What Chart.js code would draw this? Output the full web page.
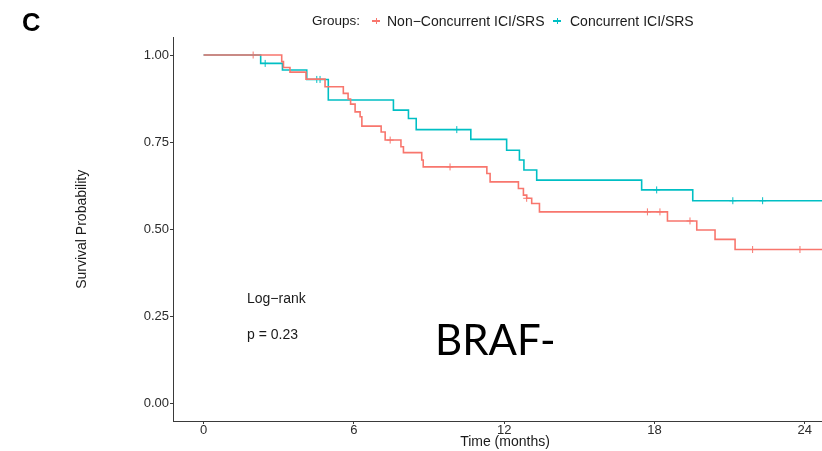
<!DOCTYPE html>
<html>
<head>
<meta charset="utf-8">
<script src="https://cdn.jsdelivr.net/npm/chart.js@4.4.1/dist/chart.umd.min.js"></script>
<style>
  html, body { margin: 0; padding: 0; background: #ffffff; }
  #wrap { position: relative; width: 822px; height: 451px; overflow: hidden;
          font-family: "Liberation Sans", Arial, Helvetica, sans-serif; }
  #wrap canvas { position: absolute; left: 0; top: 0; }
  .txt { position: absolute; white-space: nowrap; line-height: 1; color: #1a1a1a; }
  .key { position: absolute; width: 8px; height: 1.5px; }
  .key::after { content: ""; position: absolute; left: 3.5px; top: -2.5px; width: 1px; height: 6.5px; background: inherit; }
</style>
</head>
<body>
<div id="wrap">
  <canvas id="km" width="822" height="451"></canvas>
  <div class="txt" id="panel" style="left:22px;top:10px;font-size:25.5px;font-weight:bold;color:#000;"></div>
  <div class="txt" id="legTitle" style="left:312px;top:14px;font-size:13.5px;"></div>
  <span class="key" id="key0" style="left:372px;top:20px;"></span>
  <div class="txt" id="leg0" style="left:387px;top:14px;font-size:14px;"></div>
  <span class="key" id="key1" style="left:553px;top:20px;"></span>
  <div class="txt" id="leg1" style="left:570px;top:14px;font-size:14px;"></div>
  <div class="txt" id="testName" style="left:247px;top:291px;font-size:14px;"></div>
  <div class="txt" id="pval" style="left:247px;top:327px;font-size:14px;"></div>
  <div class="txt" id="subset" style="left:435px;top:318px;font-size:42px;font-family:Lato, 'Open Sans', sans-serif;color:#000;"></div>
  <div class="txt" id="xTitle" style="left:505px;top:434px;font-size:14px;transform:translateX(-50%);"></div>
</div>
<script>
// Axis ticks
const xTicks = [0, 6, 12, 18, 24];
const yTicks = [0, 0.25, 0.5, 0.75, 1];

// Group labels and colours
const groupNames = ['Non\u2212Concurrent ICI/SRS', 'Concurrent ICI/SRS'];
const groupColors = ['#F8766D', '#00BFC4'];

// Kaplan-Meier estimate, non-concurrent group (event times in months, survival after each event)
const nonConcTime = [0, 3.12, 3.19, 3.45, 4.09, 4.85, 5.58, 5.77, 5.87, 6.05, 6.25, 6.32, 7.09, 7.25,
                     7.88, 7.98, 8.71, 8.77, 11.31, 11.44, 12.57, 12.77, 12.90, 13.10, 13.41,
                     18.52, 19.69, 20.42, 21.22, 24.8];
const nonConcSurv = [1, 0.981, 0.964, 0.951, 0.931, 0.909, 0.890, 0.874, 0.859, 0.837, 0.823, 0.796, 0.779, 0.756,
                     0.737, 0.720, 0.699, 0.679, 0.660, 0.636, 0.617, 0.598, 0.589, 0.574, 0.550,
                     0.524, 0.498, 0.471, 0.442, 0.442];

// Kaplan-Meier estimate, concurrent group
const concTime = [0, 2.28, 3.15, 4.12, 4.98, 7.58, 8.18, 8.49, 10.67, 12.10, 12.61, 12.79, 13.30, 17.49, 19.53, 24.8];
const concSurv = [1, 0.976, 0.957, 0.930, 0.871, 0.842, 0.818, 0.786, 0.758, 0.727, 0.699, 0.670, 0.641, 0.613, 0.582, 0.582];

// Censored observations
const nonConcCensorTime = [1.98, 7.45, 9.84, 12.90, 17.72, 18.22, 19.42, 21.92, 23.81];
const nonConcCensorSurv = [1, 0.756, 0.679, 0.589, 0.550, 0.550, 0.524, 0.442, 0.442];
const concCensorTime = [2.46, 4.52, 4.65, 10.11, 18.09, 21.13, 22.32];
const concCensorSurv = [0.976, 0.930, 0.930, 0.786, 0.613, 0.582, 0.582];

// Text
const panelLetter = 'C';
const legendTitle = 'Groups:';
const testName = 'Log\u2212rank';
const pText = 'p = 0.23';
const subsetLabel = 'BRAF-';
const xTitle = 'Time (months)';
const yTitle = 'Survival Probability';

document.getElementById('panel').textContent = panelLetter;
document.getElementById('legTitle').textContent = legendTitle;
document.getElementById('leg0').textContent = groupNames[0];
document.getElementById('leg1').textContent = groupNames[1];
document.getElementById('key0').style.background = groupColors[0];
document.getElementById('key1').style.background = groupColors[1];
document.getElementById('testName').textContent = testName;
document.getElementById('pval').textContent = pText;
document.getElementById('subset').textContent = subsetLabel;
document.getElementById('xTitle').textContent = xTitle;

const pts = (xs, ys) => xs.map((x, i) => ({ x: x, y: ys[i] }));
const FONT = '"Liberation Sans", Arial, Helvetica, sans-serif';
const AXIS = '#3a3a3a';

const curve = (xs, ys, color) => ({
  data: pts(xs, ys), showLine: true, stepped: 'before', borderColor: color,
  borderWidth: 1.6, pointRadius: 0, fill: false
});
const censor = (xs, ys, color) => ({
  data: pts(xs, ys), showLine: false, pointStyle: 'cross', pointRadius: 3.5,
  borderColor: color, backgroundColor: color, pointBorderWidth: 1
});

// the panel runs off the right edge, so no room is reserved for end labels
const noEdgePadding = s => { s.paddingLeft = 0; s.paddingRight = 0; s.paddingTop = 0; s.paddingBottom = 0; };

new Chart(document.getElementById('km'), {
  type: 'scatter',
  data: {
    datasets: [
      curve(nonConcTime, nonConcSurv, groupColors[0]),
      curve(concTime, concSurv, groupColors[1]),
      censor(nonConcCensorTime, nonConcCensorSurv, groupColors[0]),
      censor(concCensorTime, concCensorSurv, groupColors[1])
    ]
  },
  options: {
    responsive: false,
    animation: false,
    devicePixelRatio: 1,
    layout: { autoPadding: false, padding: { left: 70, top: 37.6, right: 0, bottom: 0 } },
    plugins: { legend: { display: false }, tooltip: { enabled: false } },
    scales: {
      x: {
        type: 'linear', min: -1.22, max: 24.69,
        afterBuildTicks: s => { s.ticks = xTicks.map(v => ({ value: v })); },
        afterFit: s => { s.height = 30; noEdgePadding(s); },
        grid: { drawOnChartArea: false, drawTicks: true, tickLength: 3, color: AXIS, lineWidth: 1 },
        border: { display: true, color: AXIS, width: 1 },
        ticks: { color: '#2b2b2b', padding: 0, maxRotation: 0, autoSkip: false,
                 font: { size: 13, family: FONT, lineHeight: 1 }, callback: v => String(v) },
        title: { display: false }
      },
      y: {
        type: 'linear', min: -0.05, max: 1.05,
        afterBuildTicks: s => { s.ticks = yTicks.map(v => ({ value: v })); },
        afterFit: s => { s.width = 103; noEdgePadding(s); },
        grid: { drawOnChartArea: false, drawTicks: true, tickLength: 3, color: AXIS, lineWidth: 1 },
        border: { display: true, color: AXIS, width: 1 },
        ticks: { color: '#2b2b2b', padding: 1, autoSkip: false,
                 font: { size: 13, family: FONT }, callback: v => Number(v).toFixed(2) },
        title: { display: true, text: yTitle, color: '#1a1a1a',
                 font: { size: 14, family: FONT }, padding: { top: 4, bottom: 0 } }
      }
    }
  }
});
</script>
</body>
</html>
